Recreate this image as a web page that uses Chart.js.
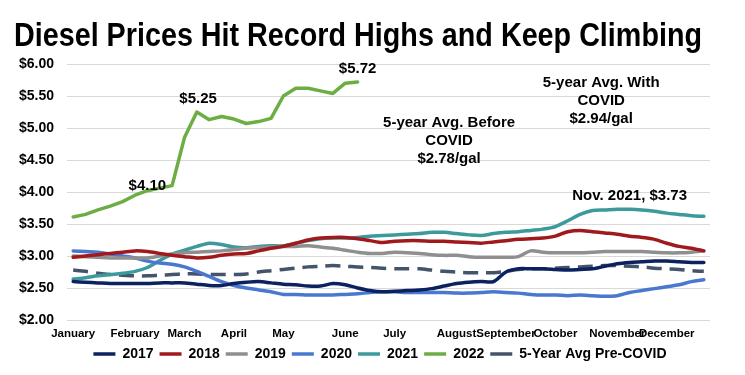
<!DOCTYPE html>
<html>
<head>
<meta charset="utf-8">
<script src="https://cdn.jsdelivr.net/npm/chart.js@4"></script>
<style>
  html, body { margin: 0; padding: 0; background: #ffffff; }
  #wrap { width: 745px; height: 375px; }
</style>
</head>
<body>
<div id="wrap"><canvas id="dieselChart" width="745" height="375"></canvas></div>
<script>
// Weekly diesel prices, one point per week (52 weeks)
const monthLabels = ['January', '', '', '', '', 'February', '', '', '', 'March', '', '', '', 'April', '', '', '',
    'May', '', '', '', '', 'June', '', '', '', 'July', '', '', '', '', 'August', '', '', '', 'September', '', '', '',
    'October', '', '', '', '', 'November', '', '', '', 'December', '', '', ''];

const prices2017 = [2.60, 2.59, 2.58, 2.57, 2.57, 2.57, 2.57, 2.58, 2.58, 2.58, 2.56, 2.54, 2.54, 2.57, 2.59, 2.60,
    2.58, 2.56, 2.55, 2.53, 2.53, 2.57, 2.55, 2.50, 2.46, 2.44, 2.45, 2.46, 2.47, 2.49, 2.53, 2.57, 2.59, 2.60, 2.60,
    2.75, 2.80, 2.80, 2.80, 2.79, 2.78, 2.79, 2.80, 2.84, 2.88, 2.90, 2.91, 2.92, 2.92, 2.91, 2.90, 2.90];
const prices2018 = [2.98, 3.00, 3.02, 3.04, 3.06, 3.08, 3.07, 3.04, 3.01, 2.99, 2.97, 2.98, 3.01, 3.03, 3.04, 3.08,
    3.12, 3.15, 3.20, 3.25, 3.28, 3.29, 3.29, 3.27, 3.24, 3.21, 3.23, 3.24, 3.24, 3.23, 3.23, 3.22, 3.21, 3.20, 3.22,
    3.24, 3.26, 3.27, 3.28, 3.31, 3.38, 3.40, 3.38, 3.36, 3.34, 3.31, 3.29, 3.26, 3.20, 3.15, 3.12, 3.08];
const prices2019 = [3.00, 2.99, 2.98, 2.97, 2.97, 2.97, 2.97, 3.00, 3.03, 3.05, 3.06, 3.07, 3.08, 3.10, 3.12, 3.13,
    3.14, 3.15, 3.15, 3.16, 3.14, 3.12, 3.09, 3.06, 3.04, 3.04, 3.06, 3.05, 3.04, 3.02, 3.01, 3.01, 2.99, 2.98, 2.98,
    2.98, 2.99, 3.08, 3.06, 3.05, 3.05, 3.05, 3.06, 3.07, 3.07, 3.07, 3.07, 3.06, 3.05, 3.05, 3.06, 3.08];
const prices2020 = [3.08, 3.07, 3.06, 3.03, 3.00, 2.97, 2.92, 2.89, 2.87, 2.83, 2.76, 2.68, 2.60, 2.54, 2.50, 2.47,
    2.44, 2.40, 2.40, 2.39, 2.39, 2.39, 2.40, 2.41, 2.43, 2.44, 2.44, 2.43, 2.43, 2.43, 2.43, 2.42, 2.42, 2.43, 2.44,
    2.43, 2.42, 2.40, 2.39, 2.39, 2.38, 2.39, 2.38, 2.37, 2.38, 2.43, 2.46, 2.49, 2.52, 2.55, 2.60, 2.63];
const prices2021 = [2.64, 2.66, 2.69, 2.71, 2.73, 2.76, 2.82, 2.93, 3.03, 3.09, 3.15, 3.20, 3.18, 3.14, 3.13, 3.15,
    3.16, 3.16, 3.20, 3.24, 3.27, 3.28, 3.28, 3.29, 3.31, 3.32, 3.33, 3.34, 3.35, 3.37, 3.37, 3.35, 3.33, 3.32, 3.35,
    3.37, 3.38, 3.40, 3.42, 3.46, 3.55, 3.65, 3.71, 3.72, 3.73, 3.73, 3.72, 3.70, 3.67, 3.65, 3.63, 3.62];
const prices2022 = [3.61, 3.65, 3.72, 3.78, 3.85, 3.95, 4.02, 4.06, 4.10, 4.85, 5.25, 5.13, 5.18, 5.14, 5.07, 5.10,
    5.15, 5.50, 5.62, 5.62, 5.58, 5.54, 5.70, 5.72];
const avgPreCovid = [2.78, 2.76, 2.73, 2.71, 2.70, 2.69, 2.69, 2.70, 2.71, 2.72, 2.72, 2.71, 2.71, 2.71, 2.72, 2.75,
    2.77, 2.79, 2.81, 2.83, 2.84, 2.85, 2.84, 2.83, 2.82, 2.81, 2.80, 2.80, 2.80, 2.78, 2.76, 2.75, 2.74, 2.74, 2.74,
    2.76, 2.79, 2.80, 2.80, 2.81, 2.82, 2.83, 2.84, 2.85, 2.85, 2.84, 2.83, 2.81, 2.80, 2.79, 2.77, 2.76];

const yTicks = [2.00, 2.50, 3.00, 3.50, 4.00, 4.50, 5.00, 5.50, 6.00];

// Text callouts, placed in data space (week index, price)
const callouts = [
    { lines: ['$4.10'], week: 6, price: 4.10 },
    { lines: ['$5.25'], week: 10.1, price: 5.46 },
    { lines: ['$5.72'], week: 23, price: 5.93 },
    { lines: ['5-year Avg. Before', 'COVID', '$2.78/gal'], week: 30.4, price: 5.08 },
    { lines: ['5-year Avg. With', 'COVID', '$2.94/gal'], week: 42.7, price: 5.71 },
    { lines: ['Nov. 2021, $3.73'], week: 45, price: 3.94 }
];

const BOLD = '"Liberation Sans", Arial, sans-serif';

function series(label, data, color, dashed, tension) {
    return {
        label: label,
        data: data,
        borderColor: color,
        backgroundColor: color,
        borderWidth: 3.5,
        borderDash: dashed ? [15, 8] : [],
        borderCapStyle: dashed ? 'butt' : 'round',
        borderJoinStyle: 'round',
        pointRadius: 0,
        tension: tension,
        fill: false
    };
}

// Title and callout text
const textPlugin = {
    id: 'textPlugin',
    afterLayout(chart) {
        // the legend in the reference sits a little right of centre
        if (chart.legend) {
            chart.legend.left += 25;
            chart.legend.right += 25;
        }
    },
    afterDraw(chart) {
        const ctx = chart.ctx;
        const x = chart.scales.x;
        const y = chart.scales.y;
        ctx.save();
        ctx.fillStyle = '#000000';

        // condensed-looking title: squeeze a bold face to the reference width
        const title = 'Diesel Prices Hit Record Highs and Keep Climbing';
        ctx.font = 'bold 33px ' + BOLD;
        const w = ctx.measureText(title).width;
        const sx = 688 / w;
        ctx.save();
        ctx.translate(14, 46);
        ctx.scale(sx, 1);
        ctx.textAlign = 'left';
        ctx.textBaseline = 'alphabetic';
        ctx.fillText(title, 0, 0);
        ctx.restore();

        ctx.textAlign = 'center';
        ctx.textBaseline = 'middle';
        ctx.font = 'bold 15px ' + BOLD;
        callouts.forEach(c => {
            const px = x.getPixelForValue(c.week);
            const py = y.getPixelForValue(c.price);
            c.lines.forEach((t, k) => ctx.fillText(t, px, py + k * 18));
        });
        ctx.restore();
    }
};

const ctx = document.getElementById('dieselChart').getContext('2d');
new Chart(ctx, {
    type: 'line',
    data: {
        labels: monthLabels,
        datasets: [
            series('2017', prices2017, '#0b2160', false, 0.3),
            series('2018', prices2018, '#a01a1d', false, 0.3),
            series('2019', prices2019, '#8f8f8f', false, 0.3),
            series('2020', prices2020, '#4a78d0', false, 0.3),
            series('2021', prices2021, '#3c9a9c', false, 0.3),
            series('2022', prices2022, '#6dae44', false, 0),
            series('5-Year Avg Pre-COVID', avgPreCovid, '#44546a', true, 0.3)
        ]
    },
    options: {
        responsive: false,
        animation: false,
        layout: { padding: { top: 64, right: 35, left: 0, bottom: 4 } },
        scales: {
            x: {
                offset: true,
                afterFit: axis => { axis.height = 21; },
                grid: { display: false, drawTicks: false },
                border: { display: false },
                ticks: {
                    autoSkip: false,
                    maxRotation: 0,
                    minRotation: 0,
                    padding: 7,
                    color: '#000000',
                    font: { family: BOLD, size: 11.5, weight: 'bold' }
                }
            },
            y: {
                min: 2,
                max: 6,
                afterBuildTicks: axis => { axis.ticks = yTicks.map(v => ({ value: v })); },
                afterFit: axis => { axis.width = 67; },
                grid: { color: '#d9d9d9', lineWidth: 1, drawTicks: false },
                border: { display: false },
                ticks: {
                    padding: 13,
                    color: '#000000',
                    font: { family: BOLD, size: 14, weight: 'bold' },
                    callback: v => '$' + Number(v).toFixed(2)
                }
            }
        },
        plugins: {
            title: { display: false },
            tooltip: { enabled: false },
            legend: {
                position: 'bottom',
                labels: {
                    usePointStyle: true,
                    pointStyle: 'line',
                    pointStyleWidth: 22,
                    boxHeight: 4,
                    padding: 6,
                    color: '#000000',
                    font: { family: BOLD, size: 14, weight: 'bold' }
                }
            }
        }
    },
    plugins: [textPlugin]
});
</script>
</body>
</html>
